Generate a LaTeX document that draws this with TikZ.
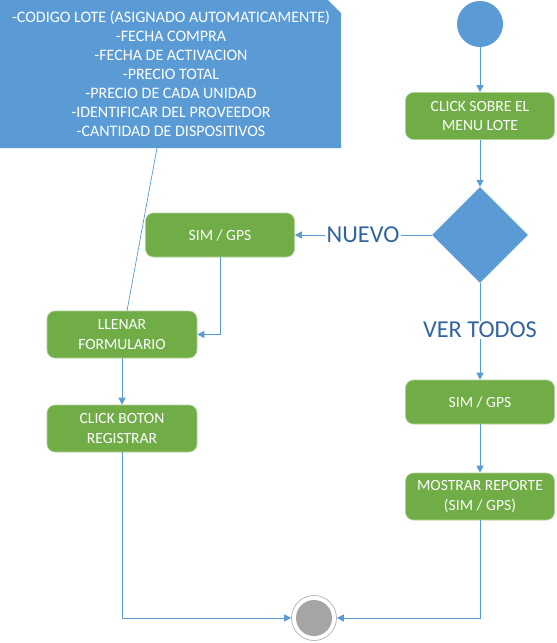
\documentclass[tikz,border=0pt]{standalone}
\usepackage{fontspec}
\setmainfont{Carlito}
\usetikzlibrary{shapes.geometric, arrows.meta, positioning, calc}
\definecolor{actgreen}{RGB}{112,173,71}
\definecolor{actblue}{RGB}{91,155,213}
\definecolor{guardblue}{RGB}{50,100,160}
\definecolor{endgray}{RGB}{165,165,165}
\tikzset{
  activity/.style={fill=actgreen, draw=actgreen!55!white, line width=0.6pt, rounded corners=8pt, minimum width=149pt, minimum height=46pt, inner sep=0pt, text=white, align=center, font=\fontsize{15.6}{19.2}\selectfont},
  link/.style={draw=actblue, line width=0.9pt},
  flow/.style={link, -{Triangle[length=7pt,width=7pt]}},
  guard/.style={text=guardblue, inner sep=1pt, font=\fontsize{24.3}{28}\selectfont},
}

\begin{document}
\begin{tikzpicture}[x=1pt, y=-1pt]
  \useasboundingbox (0,0) rectangle (557,643);
  % note with folded corner
  \fill[actblue] (0,0) -- (328,0) -- (341,13) -- (341,148) -- (0,148) -- cycle;
  \draw[actblue!50!white, line width=0.5pt] (328,0) -- (341,13);
  \node[text=white, align=center, font=\fontsize{16}{19}\selectfont] (note) at (171,74) {
    -CODIGO LOTE (ASIGNADO AUTOMATICAMENTE)\\
    -FECHA COMPRA\\
    -FECHA DE ACTIVACION\\
    -PRECIO TOTAL\\
    -PRECIO DE CADA UNIDAD\\
    -IDENTIFICAR DEL PROVEEDOR\\
    -CANTIDAD DE DISPOSITIVOS};
  \coordinate (notepin) at (157,148);

  % right column
  \node[circle, fill=actblue, minimum size=46pt, inner sep=0pt] (start) at (480,24) {};
  \node[activity, minimum height=47pt] (menu) at (480,116) {CLICK SOBRE EL\\MENU LOTE};
  \node[diamond, fill=actblue, minimum width=96pt, minimum height=96pt, inner sep=0pt] (choice) at (480,235) {};
  \node[guard] (vertodos) at (480,330) {VER TODOS};
  \node[activity, minimum height=44pt] (simall) at (480,402) {SIM / GPS};
  \node[activity, minimum height=47pt] (reporte) at (480,496.5) {MOSTRAR REPORTE\\(SIM / GPS)};

  % left column
  \node[guard] (nuevo) at (363,235) {NUEVO};
  \node[activity, minimum height=44pt] (simnew) at (220,235) {SIM / GPS};
  \node[activity, minimum height=47pt, minimum width=150pt] (llenar) at (122,334.5) {LLENAR\\FORMULARIO};
  \node[activity, minimum height=47pt, minimum width=150pt] (registrar) at (122,428.5) {CLICK BOTON\\REGISTRAR};

  % final node
  \node[circle, draw=gray!70, line width=0.6pt, fill=white, minimum size=45pt, inner sep=0pt] (finish) at (314,618) {};
  \node[circle, fill=endgray, minimum size=36pt, inner sep=0pt] (finishdot) at (finish) {};

  % connectors
  \draw[flow] (start) -- (menu);
  \draw[flow] (menu) -- (choice);
  \draw[link] (choice) -- (nuevo);
  \draw[flow] (nuevo) -- (simnew);
  \draw[flow] (simnew.south) |- (llenar.east);
  \draw[flow] (llenar) -- (registrar);
  \draw[flow] (registrar.south) |- (finish.west);
  \draw[link] (choice) -- (vertodos);
  \draw[flow] (vertodos) -- (simall);
  \draw[flow] (simall) -- (reporte);
  \draw[flow] (reporte.south) |- (finish.east);
  \draw[link, line width=0.7pt] (notepin) -- ($(llenar.north)+(5,0)$);
\end{tikzpicture}
\end{document}
